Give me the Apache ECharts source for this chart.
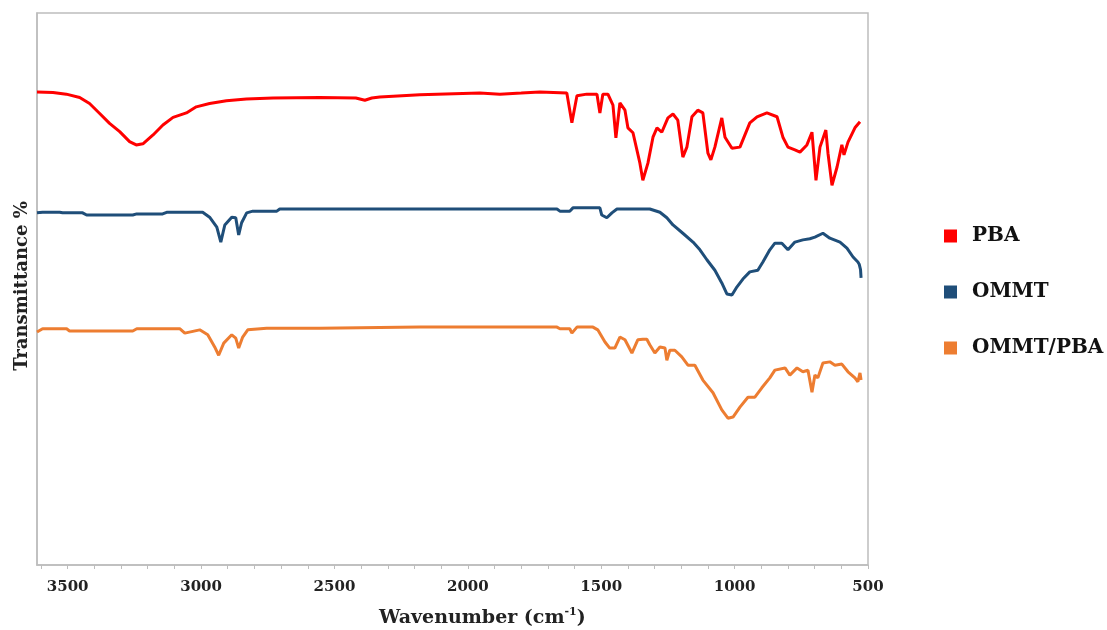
<!DOCTYPE html>
<html>
<head>
<meta charset="utf-8">
<script src="https://cdn.jsdelivr.net/npm/echarts@6/dist/echarts.min.js"></script>
<style>
  html, body { margin: 0; padding: 0; background: #fff; }
  #main { width: 1107px; height: 630px; }
</style>
</head>
<body>
<div id="main"></div>
<script>
// [wavenumber cm-1, transmittance (arbitrary %, offset)]
var pba = [[3615,85.7],[3555,85.6],[3505,85.3],[3455,84.7],[3418,83.6],[3380,81.8],[3343,80.0],[3305,78.5],
  [3268,76.7],[3243,76.1],[3218,76.3],[3180,77.9],[3143,79.7],[3105,81.1],[3055,81.9],[3018,83.0],[2968,83.6],
  [2905,84.1],[2830,84.4],[2730,84.6],[2555,84.7],[2420,84.6],[2386,84.2],[2360,84.6],[2330,84.8],[2180,85.2],
  [1955,85.5],[1880,85.3],[1800,85.5],[1730,85.7],[1629,85.5],[1610,80.1],[1591,85.0],[1554,85.3],[1516,85.3],
  [1505,81.9],[1494,85.3],[1475,85.3],[1456,83.3],[1445,77.4],[1430,83.7],[1411,82.4],[1400,79.2],[1381,78.3],
  [1355,72.8],[1344,69.7],[1325,72.8],[1306,77.5],[1291,79.2],[1273,78.4],[1250,81.0],[1231,81.7],[1213,80.6],
  [1194,73.9],[1179,75.7],[1160,81.2],[1138,82.4],[1119,81.9],[1100,74.6],[1089,73.4],[1074,75.7],[1048,81.0],
  [1036,77.5],[1010,75.5],[980,75.7],[943,80.1],[916,81.2],[879,81.9],[841,81.2],[819,77.5],[800,75.7],[774,75.2],
  [755,74.8],[729,76.1],[710,78.4],[695,69.7],[680,75.7],[658,78.8],[650,74.6],[635,68.8],[616,72.1],[598,76.1],
  [590,74.3],[575,76.6],[549,79.2],[530,80.3]];

var ommt = [[3615,63.8],[3594,63.9],[3530,63.9],[3519,63.8],[3444,63.8],[3429,63.4],[3256,63.4],[3241,63.6],
  [3144,63.6],[3129,63.9],[2994,63.9],[2968,63.0],[2941,61.2],[2926,58.5],[2911,61.6],[2885,63.0],[2870,62.9],
  [2859,59.8],[2848,62.0],[2829,63.8],[2806,64.1],[2716,64.1],[2705,64.5],[2555,64.5],[2180,64.5],[1730,64.5],
  [1666,64.5],[1655,64.1],[1618,64.1],[1606,64.7],[1505,64.7],[1498,63.4],[1479,62.9],[1460,63.8],[1441,64.5],
  [1318,64.5],[1280,63.9],[1254,62.9],[1231,61.6],[1194,60.1],[1156,58.5],[1130,57.1],[1104,55.3],[1074,53.4],
  [1048,51.1],[1029,49.1],[1010,48.9],[991,50.4],[969,51.8],[943,53.1],[913,53.4],[894,54.9],[868,57.1],
  [849,58.3],[823,58.3],[800,57.1],[774,58.5],[744,58.9],[718,59.1],[699,59.4],[669,60.1],[643,59.2],[605,58.5],
  [579,57.4],[556,55.8],[538,54.9],[533,54.5],[528,53.5],[526,52.0]];

var ommtPba = [[3615,42.2],[3594,42.8],[3504,42.8],[3493,42.4],[3256,42.4],[3241,42.8],[3080,42.8],[3061,42.0],
  [3005,42.6],[2975,41.7],[2949,39.5],[2934,38.0],[2915,40.2],[2885,41.7],[2870,41.1],[2859,39.3],[2844,41.3],
  [2825,42.6],[2754,42.9],[2555,42.9],[2180,43.1],[1730,43.1],[1666,43.1],[1655,42.8],[1618,42.8],[1610,42.0],
  [1591,43.1],[1531,43.1],[1513,42.6],[1486,40.4],[1468,39.3],[1449,39.3],[1430,41.3],[1411,40.8],[1385,38.4],
  [1363,40.8],[1344,40.9],[1329,40.9],[1318,39.9],[1299,38.4],[1280,39.5],[1261,39.3],[1254,37.1],[1243,38.9],
  [1224,38.9],[1198,37.7],[1175,36.2],[1149,36.2],[1119,33.5],[1081,31.2],[1048,28.1],[1025,26.6],[1006,26.8],
  [980,28.6],[950,30.4],[924,30.4],[898,32.1],[868,33.9],[849,35.3],[811,35.7],[793,34.4],[766,35.7],[744,35.0],
  [725,35.3],[710,31.3],[699,34.4],[688,33.9],[669,36.6],[643,36.8],[624,36.2],[598,36.4],[575,35.0],[549,33.9],
  [538,33.2],[530,34.8],[526,33.5]];

var seriesNames = ['PBA', 'OMMT', 'OMMT/PBA'];
var seriesColors = ['#ff0000', '#1f4e79', '#ed7d31'];
var labelTicks = [3500, 3000, 2500, 2000, 1500, 1000, 500];
var minorTicks = [3600,3500,3400,3300,3200,3100,3000,2900,2800,2700,2600,2500,2400,2300,2200,2100,2000,
  1900,1800,1700,1600,1500,1400,1300,1200,1100,1000,900,800,700,600,500];

var font = 'DejaVu Serif';
var myChart = echarts.init(document.getElementById('main'));

var option = {
    animation: false,
    color: seriesColors,
    grid: {
        left: 37, right: 239, top: 13, bottom: 65,
        show: true,
        borderColor: '#bdbdbd',
        borderWidth: 1.5
    },
    legend: {
        orient: 'vertical',
        left: 939,
        top: 221,
        icon: 'rect',
        itemWidth: 13,
        itemHeight: 13,
        itemGap: 36,
        data: seriesNames,
        textStyle: {
            fontFamily: font,
            fontWeight: 'bold',
            fontSize: 20,
            color: '#111',
            padding: [0, 0, 0, 10]
        }
    },
    xAxis: {
        type: 'value',
        min: 500,
        max: 3615,
        inverse: true,
        axisLine: { show: true, lineStyle: { color: '#bdbdbd', width: 1.5 } },
        axisTick: { show: true, length: 4, customValues: minorTicks, lineStyle: { color: '#bdbdbd' } },
        axisLabel: {
            customValues: labelTicks,
            formatter: function (v) { return String(v); },
            alignMinLabel: 'center',
            alignMaxLabel: 'center',
            margin: 15,
            fontFamily: font,
            fontWeight: 'bold',
            fontSize: 15,
            color: '#222'
        },
        splitLine: { show: false }
    },
    yAxis: {
        type: 'value',
        min: 0,
        max: 100,
        name: 'Transmittance %',
        nameLocation: 'middle',
        nameGap: 6,
        nameTextStyle: {
            fontFamily: font,
            fontWeight: 'bold',
            fontSize: 18,
            color: '#222',
            padding: [0, 0, 0, 6]
        },
        axisLine: { show: true, lineStyle: { color: '#bdbdbd', width: 1.5 } },
        axisTick: { show: false },
        axisLabel: { show: false },
        splitLine: { show: false }
    },
    graphic: [{
        type: 'text',
        left: 379,
        top: 607,
        style: {
            text: '{t|Wavenumber (cm}{s|-1}{t|)}',
            rich: {
                t: { fontFamily: font, fontWeight: 'bold', fontSize: 19, fill: '#222' },
                s: { fontFamily: font, fontWeight: 'bold', fontSize: 11, fill: '#222', padding: [0, 0, 11, 0] }
            }
        }
    }],
    series: [
        { name: seriesNames[0], type: 'line', data: pba, showSymbol: false, lineStyle: { width: 3 } },
        { name: seriesNames[1], type: 'line', data: ommt, showSymbol: false, lineStyle: { width: 3 } },
        { name: seriesNames[2], type: 'line', data: ommtPba, showSymbol: false, lineStyle: { width: 3 } }
    ]
};
myChart.setOption(option);
</script>
</body>
</html>
